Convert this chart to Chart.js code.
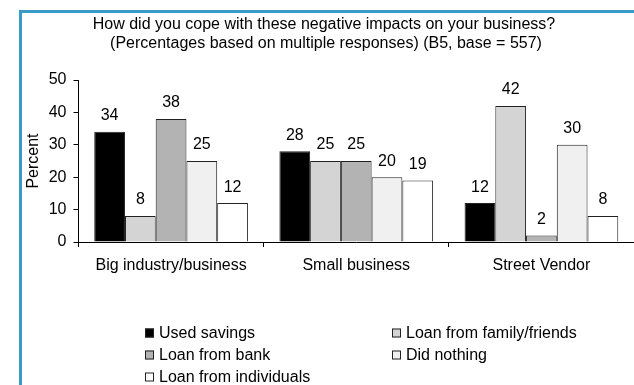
<!DOCTYPE html>
<html>
<head>
<meta charset="utf-8">
<script src="https://cdn.jsdelivr.net/npm/chart.js@4.4.0/dist/chart.umd.min.js"></script>
<style>
    body { margin: 0; background: #fff; }
    #frame { position: absolute; left: 19px; top: 10px; width: 620px; height: 380px;
             border-top: 3px solid #3a9ac6; border-left: 3px solid #3a9ac6; }
    #wrap { position: absolute; left: 0; top: 0; width: 634px; height: 385px; }
</style>
</head>
<body>
<div id="frame"></div>
<div id="wrap"><canvas id="myChart"></canvas></div>
<script>
// DATA
const categories = ["Big industry/business", "Small business", "Street Vendor"];
const seriesNames = ["Used savings", "Loan from family/friends", "Loan from bank", "Did nothing", "Loan from individuals"];
const usedSavings = [34, 28, 12];
const loanFamily = [8, 25, 42];
const loanBank = [38, 25, 2];
const didNothing = [25, 20, 30];
const loanIndividuals = [12, 19, 8];
const yTicks = [0, 10, 20, 30, 40, 50];
const titleLines = ["How did you cope with these negative impacts on your business?",
                    "(Percentages based on multiple responses) (B5, base = 557)"];

const FONT = "'Liberation Sans', Arial, sans-serif";
const fills = ["#000000", "#d4d4d4", "#b3b3b3", "#f0f0f0", "#ffffff"];
const seriesValues = [usedSavings, loanFamily, loanBank, didNothing, loanIndividuals];

// TITLE
const titlePlugin = {
    id: "titleText",
    afterDraw(chart) {
        const c = chart.ctx;
        c.save();
        c.fillStyle = "#000";
        c.font = "16px " + FONT;
        c.textAlign = "center";
        c.textBaseline = "middle";
        c.fillText(titleLines[0], 324, 25);
        c.fillText(titleLines[1], 326, 44);
        c.restore();
    }
};

// VALUE LABELS ABOVE BARS
const valueLabels = {
    id: "valueLabels",
    afterDatasetsDraw(chart) {
        const c = chart.ctx;
        c.save();
        c.fillStyle = "#000";
        c.font = "16px " + FONT;
        c.textAlign = "center";
        c.textBaseline = "middle";
        chart.data.datasets.forEach((ds, i) => {
            chart.getDatasetMeta(i).data.forEach((bar, j) => {
                c.fillText(ds.data[j], bar.x, bar.y - 16);
            });
        });
        c.restore();
    }
};

// LEGEND, TWO COLUMNS
const legendBox = {
    id: "legendBox",
    afterDraw(chart) {
        const c = chart.ctx;
        const colX = [145, 392];
        const rowY = [333, 355, 377];
        c.save();
        c.font = "16px " + FONT;
        c.textBaseline = "middle";
        c.textAlign = "left";
        chart.data.datasets.forEach((ds, i) => {
            const x = colX[i % 2];
            const y = rowY[Math.floor(i / 2)];
            c.fillStyle = ds.backgroundColor;
            c.fillRect(x, y - 4.5, 9, 9);
            c.strokeStyle = "#222";
            c.lineWidth = 1;
            c.strokeRect(x + 0.5, y - 4, 8, 8);
            c.fillStyle = "#000";
            c.fillText(ds.label, x + 14, y + 1);
        });
        c.restore();
    }
};

const ctx = document.getElementById("myChart").getContext("2d");
const myChart = new Chart(ctx, {
    type: "bar",
    data: {
        labels: categories,
        datasets: seriesNames.map((name, i) => ({
            label: name,
            data: seriesValues[i],
            backgroundColor: fills[i],
            borderColor: "#222",
            borderWidth: 1,
            barPercentage: 1,
            categoryPercentage: 0.83
        }))
    },
    options: {
        responsive: true,
        maintainAspectRatio: false,
        animation: false,
        layout: { padding: { left: 19.5, right: -8, top: 80, bottom: 103 } },
        plugins: {
            legend: { display: false },
            title: { display: false },
            tooltip: { enabled: false }
        },
        scales: {
            x: {
                afterFit: s => { s.height = 40; },
                grid: { drawOnChartArea: false, offset: true, tickLength: 5, color: "#000" },
                border: { color: "#000" },
                ticks: { color: "#000", font: { family: FONT, size: 16 }, padding: 9, maxRotation: 0 }
            },
            y: {
                min: 0,
                max: 50,
                afterFit: s => { s.width = 59; },
                afterBuildTicks: s => { s.ticks = yTicks.map(v => ({ value: v })); },
                grid: { drawOnChartArea: false, tickLength: 5, color: "#000" },
                border: { color: "#000" },
                ticks: { color: "#000", font: { family: FONT, size: 16 }, padding: 7 },
                title: {
                    display: true,
                    text: "Percent",
                    color: "#000",
                    font: { family: FONT, size: 16 },
                    padding: { top: 4, bottom: 0 }
                }
            }
        }
    },
    plugins: [titlePlugin, valueLabels, legendBox]
});
</script>
</body>
</html>
